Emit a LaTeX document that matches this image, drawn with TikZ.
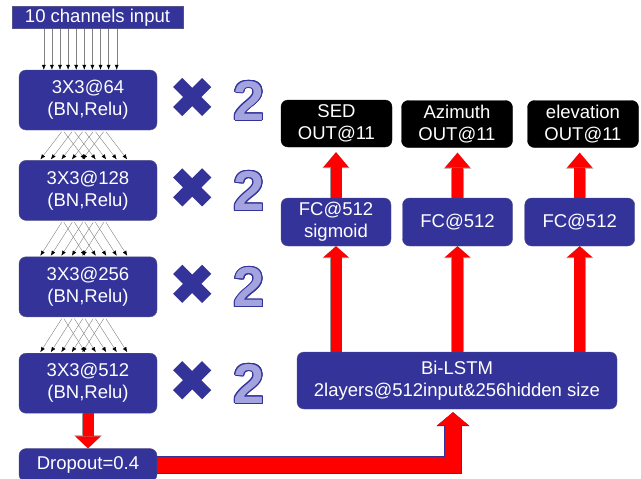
\documentclass[tikz,border=0pt]{standalone}
\usepackage{fontspec}
\setmainfont{Liberation Sans}
\usepackage{contour}
\usetikzlibrary{arrows.meta,positioning,calc}

\definecolor{boxblue}{HTML}{333399}
\definecolor{twofill}{HTML}{A3A3E0}
\contourlength{1pt}

\begin{document}
\begin{tikzpicture}[
    x=1pt, y=-1pt,
    box/.style={draw=boxblue!60!gray,fill=boxblue,text=white,rounded corners=7pt,align=center,inner sep=0pt,font=\fontsize{18.5}{22}\selectfont},
    conv/.style={box,minimum width=138pt,minimum height=60pt},
    outbox/.style={box,fill=black,draw=black,minimum width=111pt,minimum height=47pt},
    fcbox/.style={box,minimum width=110pt,minimum height=48pt},
    thinarrow/.style={draw=gray,line width=0.4pt,-{Latex[black,length=5pt,width=4pt]}},
    fat/.style 2 args={draw=red,line width=11pt,-{Triangle[width=25pt,length=#1,line width=0pt,fill=red]},
        preaction={draw=gray!80,line width=12.4pt,-{Triangle[width=27.5pt,length=#2,line width=0pt,fill=gray!80]}}},
    xmark/.style={draw=boxblue,line width=13pt},
    timestwo/.style={inner sep=0pt,text=twofill,font=\fontsize{56}{56}\selectfont\bfseries}
]
\useasboundingbox (0,0) rectangle (641,479);

% left column
\node[box,rounded corners=0pt,minimum width=171pt,minimum height=22pt] (input) at (97.5,17.5) {10 channels input};
\node[conv] (conv1) at (88,100) {3X3@64\\(BN,Relu)};
\node[conv,below=30pt of conv1] (conv2) {3X3@128\\(BN,Relu)};
\node[conv,below=36pt of conv2] (conv3) {3X3@256\\(BN,Relu)};
\node[conv,below=36pt of conv3] (conv4) {3X3@512\\(BN,Relu)};
\node[box,minimum width=138pt,minimum height=33pt,below=35pt of conv4] (drop) {Dropout=0.4};

% right column
\node[outbox] (out1) at (336.5,123.5) {SED\\OUT@11};
\node[outbox] (out2) at (457,124) {Azimuth\\OUT@11};
\node[outbox] (out3) at (583,124) {elevation\\OUT@11};
\node[fcbox] (fc1) at (336,222) {FC@512\\sigmoid};
\node[fcbox] (fc2) at (457.5,222) {FC@512};
\node[fcbox] (fc3) at (579.7,222) {FC@512};
\node[box,minimum width=320pt,minimum height=57pt] (lstm) at (457,380.5) {Bi-LSTM\\2layers@512input\&256hidden size};

% x 2 marks
\foreach \n in {1,...,4}{
  \draw[xmark] ($(conv\n.east)+(35,-3)$) +(-14.5,-14.5) -- +(14.5,14.5) +(-14.5,14.5) -- +(14.5,-14.5);
  \node[timestwo] (two\n) at ($(conv\n.east)+(92,1)$) {\contour{boxblue}{2}};
}

% input channels
\foreach \i in {0,...,9}{
  \coordinate (in\i) at ($(conv1.north west)+(25+8.1*\i,0)$);
  \draw[thinarrow] (input.south -| in\i) -- (in\i);
}

% connections between conv layers
\foreach \a/\b in {conv1/conv2,conv2/conv3,conv3/conv4}
  \foreach \i in {0,...,4}{
    \draw[thinarrow,shorten <=2pt,shorten >=1pt] ($(\a.south west)+(44+10.5*\i,0)$) -- ($(\b.north west)+(21+10.5*\i,0)$);
    \draw[thinarrow,shorten <=2pt,shorten >=1pt] ($(\a.south west)+(44+10.5*\i,0)$) -- ($(\b.north west)+(67+10.5*\i,0)$);
  }

% fat arrows
\draw[fat={12pt}{13pt}] (conv4.south) -- (drop.north);
\foreach \n in {1,2,3}{
  \coordinate (top\n) at ($(out\n.south -| fc\n.north)+(0,5)$);
  \draw[fat={15pt}{16pt}] (fc\n.north) -- (top\n);
  \draw[fat={11pt}{12pt}] (lstm.north -| fc\n.south) -- (fc\n.south);
}
\coordinate (lstmin) at ($(lstm.south)+(-4,3)$);
\draw[draw=red,line width=16pt,-{Triangle[width=31pt,length=13pt,line width=0pt,fill=red]},
  preaction={draw=boxblue,line width=17.4pt,-{Triangle[width=33.5pt,length=14pt,line width=0pt,fill=boxblue]}}]
  (drop.east) -| (lstmin);

\end{tikzpicture}
\end{document}
